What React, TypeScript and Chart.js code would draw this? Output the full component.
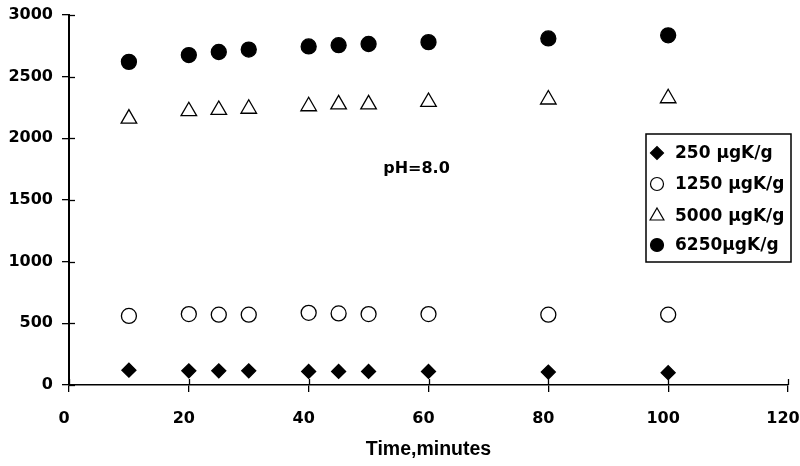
import React, { useEffect, useRef } from "react";
import { Chart, registerables } from "chart.js";
import { drawPoint } from "chart.js/helpers";

Chart.register(...registerables);

const times = [10, 20, 25, 30, 40, 45, 50, 60, 80, 100];
const s250 = [120, 115, 115, 115, 110, 110, 110, 110, 105, 100];
const s1250 = [560, 575, 570, 570, 585, 580, 575, 575, 570, 570];
const s5000 = [2160, 2220, 2230, 2240, 2260, 2275, 2275, 2295, 2315, 2325];
const s6250 = [2620, 2675, 2700, 2720, 2745, 2755, 2765, 2780, 2810, 2835];
const seriesLabels = ["250 µgK/g", "1250 µgK/g", "5000 µgK/g", "6250µgK/g"];
const xTitle = "Time,minutes";
const note = "pH=8.0";
const noteAt = { x: 58, y: 1750 };
const WIDE = "'DejaVu Sans', sans-serif";
const ARIAL = "'Liberation Sans', Arial, sans-serif";

const pts = (ys: number[]) => times.map((t, i) => ({ x: t, y: ys[i] }));

const styles = [
  { pointStyle: "rectRot", radius: 7, legendRadius: 6.5, bg: "#000", border: "#000" },
  { pointStyle: "circle", radius: 7.5, legendRadius: 6.5, bg: "#fff", border: "#000" },
  { pointStyle: "triangle", radius: 9, legendRadius: 8, bg: "#fff", border: "#000" },
  { pointStyle: "circle", radius: 7.5, legendRadius: 6.5, bg: "#000", border: "#000" },
];

const overlay = {
  id: "overlay",
  afterDraw(chart: any) {
    const ctx = chart.ctx;
    const xs = chart.scales.x;
    const ys = chart.scales.y;
    const area = chart.chartArea;
    ctx.save();
    // inner tick stubs (ticks cross the axes)
    ctx.strokeStyle = "#000";
    ctx.lineWidth = 1.3;
    xs.ticks.forEach((t: any) => {
      const px = Math.round(xs.getPixelForValue(t.value)) + 0.5;
      ctx.beginPath();
      ctx.moveTo(px, area.bottom);
      ctx.lineTo(px, area.bottom - 6);
      ctx.stroke();
    });
    ys.ticks.forEach((t: any) => {
      const py = Math.round(ys.getPixelForValue(t.value)) + 0.5;
      ctx.beginPath();
      ctx.moveTo(area.left, py);
      ctx.lineTo(area.left + 6, py);
      ctx.stroke();
    });

    ctx.fillStyle = "#000";
    ctx.font = `bold 16px ${WIDE}`;
    ctx.textAlign = "center";
    ctx.textBaseline = "middle";
    ctx.fillText(note, xs.getPixelForValue(noteAt.x), ys.getPixelForValue(noteAt.y));

    // legend box
    const bx = 646, by = 134, bw = 145, bh = 128;
    ctx.strokeStyle = "#000";
    ctx.lineWidth = 1.5;
    ctx.strokeRect(bx, by, bw, bh);
    const rows = [153, 184, 216, 245];
    ctx.textAlign = "left";
    ctx.font = `bold 17px ${WIDE}`;
    seriesLabels.forEach((lab, i) => {
      const st = styles[i];
      ctx.fillStyle = st.bg;
      ctx.strokeStyle = st.border;
      ctx.lineWidth = 1.2;
      drawPoint(ctx, { pointStyle: st.pointStyle as any, radius: st.legendRadius, rotation: 0, borderWidth: 1.2 } as any, 657, rows[i]);
      ctx.fillStyle = "#000";
      ctx.fillText(lab, 675, rows[i] + 1);
    });
    ctx.restore();
  },
};

export default function App() {
  const ref = useRef<HTMLCanvasElement>(null);
  useEffect(() => {
    document.body.style.margin = "0";
    const chart = new Chart(ref.current!, {
      type: "scatter",
      data: {
        datasets: [s250, s1250, s5000, s6250].map((d, i) => ({
          label: seriesLabels[i],
          data: pts(d),
          pointStyle: styles[i].pointStyle as any,
          pointRadius: styles[i].radius,
          pointBackgroundColor: styles[i].bg,
          pointBorderColor: styles[i].border,
          pointBorderWidth: 1.3,
          showLine: false,
        })),
      },
      options: {
        animation: false,
        responsive: false,
        layout: { padding: { top: 15, right: 12, left: 0, bottom: 0 } },
        plugins: { legend: { display: false }, tooltip: { enabled: false } },
        scales: {
          x: {
            type: "linear",
            min: 0,
            max: 120,
            ticks: { stepSize: 20, color: "#000", font: { family: WIDE, size: 16, weight: "bold" }, padding: 17, labelOffset: -5 },
            grid: { drawOnChartArea: false, tickLength: 7, color: "#000", lineWidth: 1.3 },
            border: { color: "#000", width: 1.5 },
            title: { display: true, text: xTitle, color: "#000", font: { family: ARIAL, size: 19.5, weight: "bold" }, padding: { top: 0, bottom: 5 } },
            afterFit: (s: any) => { s.height = 81; s.paddingLeft = 0; s.paddingRight = 0; },
          },
          y: {
            min: 0,
            max: 3000,
            ticks: { stepSize: 500, color: "#000", font: { family: WIDE, size: 16, weight: "bold" }, padding: 9, callback: (v: any) => String(v) },
            grid: { drawOnChartArea: false, tickLength: 7, color: "#000", lineWidth: 1.3 },
            border: { color: "#000", width: 2 },
            afterFit: (s: any) => { s.width = 69; s.paddingTop = 0; s.paddingBottom = 0; },
          },
        },
      },
      plugins: [overlay],
    });
    return () => chart.destroy();
  }, []);
  return (
    <div style={{ position: "absolute", left: 0, top: 0, width: 800, height: 466 }}>
      <canvas ref={ref} width={800} height={466} />
    </div>
  );
}
